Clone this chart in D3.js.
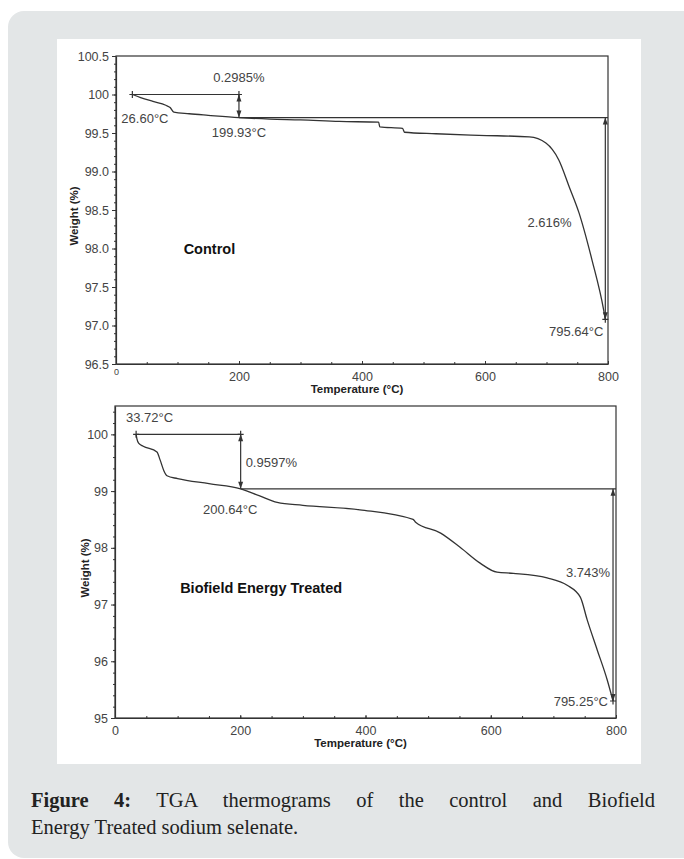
<!DOCTYPE html>
<html>
<head>
<meta charset="utf-8">
<script src="https://cdn.jsdelivr.net/npm/d3@7/dist/d3.min.js"></script>
<style>
  body { margin: 0; background: #fff; }
  svg text { font-family: "Liberation Sans", Arial, sans-serif; }
</style>
</head>
<body>
<script>
// control sample
var controlTemp = [26.6, 40, 60, 81, 88, 94, 119, 150, 199.93, 250, 300, 363, 427, 429, 466, 469, 520, 590, 672, 699, 720, 737, 753, 774, 793, 795.64];
var controlWeight = [100, 99.96, 99.91, 99.86, 99.83, 99.77, 99.75, 99.73, 99.70, 99.68, 99.67, 99.65, 99.64, 99.58, 99.56, 99.51, 99.49, 99.47, 99.45, 99.37, 99.15, 98.80, 98.46, 97.85, 97.20, 97.08];

// treated sample
var treatedTemp = [33.72, 35, 38, 45, 67, 72, 78, 83, 100, 150, 200.64, 230, 259, 300, 391, 476, 480, 520, 551, 583, 610, 636, 690, 722, 743, 754, 770, 786, 795.25];
var treatedWeight = [100, 99.92, 99.84, 99.79, 99.69, 99.55, 99.36, 99.27, 99.22, 99.13, 99.04, 98.92, 98.80, 98.75, 98.67, 98.50, 98.45, 98.26, 98.01, 97.73, 97.57, 97.55, 97.47, 97.34, 97.13, 96.73, 96.20, 95.67, 95.30];

var xTicks = [0, 200, 400, 600, 800];
var xTickLabels = ["0", "200", "400", "600", "800"];
var yTicksTop = [96.5, 97, 97.5, 98, 98.5, 99, 99.5, 100, 100.5];
var yTickLabelsTop = ["96.5", "97.0", "97.5", "98.0", "98.5", "99.0", "99.5", "100", "100.5"];
var yTicksBottom = [95, 96, 97, 98, 99, 100];
var yTickLabelsBottom = ["95", "96", "97", "98", "99", "100"];

var svg = d3.select('body').append('svg')
    .attr('width', 684)
    .attr('height', 859);

// grey card + white figure panel
svg.append('rect').attr('x', 8).attr('y', 11).attr('width', 700).attr('height', 847)
    .attr('rx', 16).attr('fill', '#e3e6e7');
svg.append('rect').attr('x', 57).attr('y', 39).attr('width', 584).attr('height', 725)
    .attr('fill', '#fff');

var ink = '#333';

function drawPanel(p) {
    var x = d3.scaleLinear().domain([0, 800]).range([p.left, p.right]);
    var y = d3.scaleLinear().domain(p.yDomain).range([p.bottom, p.top]);
    var g = svg.append('g');

    // frame
    g.append('rect').attr('x', p.left).attr('y', p.top)
        .attr('width', p.right - p.left).attr('height', p.bottom - p.top)
        .attr('fill', 'none').attr('stroke', ink).attr('stroke-width', 1.2);

    // y axis
    var yAxis = d3.axisLeft(y).tickValues(p.yTicks).tickSize(4).tickSizeOuter(0)
        .tickFormat(function(d, i) { return p.yLabels[i]; });
    var ya = g.append('g').attr('transform', 'translate(' + p.left + ',0)').call(yAxis);
    var yMinor = d3.axisLeft(y).tickValues(d3.range(p.yDomain[0], p.yDomain[1] + 1e-6, p.yMinor))
        .tickSize(2).tickFormat('').tickSizeOuter(0);
    var ym = g.append('g').attr('transform', 'translate(' + p.left + ',0)').call(yMinor);
    ym.select('.domain').remove();

    // x axis (ticks inward)
    var xAxis = d3.axisBottom(x).tickValues(xTicks).tickSize(-3).tickSizeOuter(0)
        .tickPadding(8)
        .tickFormat(function(d, i) { return xTickLabels[i]; });
    var xa = g.append('g').attr('transform', 'translate(0,' + p.bottom + ')').call(xAxis);
    var xMinor = d3.axisBottom(x).tickValues(d3.range(0, 801, 50)).tickSize(-2).tickFormat('').tickSizeOuter(0);
    var xm = g.append('g').attr('transform', 'translate(0,' + p.bottom + ')').call(xMinor);
    xm.select('.domain').remove();

    [ya, ym, xa, xm].forEach(function(a) {
        a.selectAll('line').attr('stroke', ink);
        a.selectAll('.domain').attr('stroke', ink).attr('stroke-width', 1.2);
        a.selectAll('text').attr('fill', '#444').style('font-size', '12.5px')
            .style('font-family', '"Liberation Sans", Arial, sans-serif');
    });
    if (p.smallZero) {
        xa.selectAll('text').filter(function(d) { return d === 0; })
            .style('font-size', '9px').attr('dy', '0.3em');
    }

    // axis titles
    g.append('text').attr('x', (x(0) + x(800)) / 2 - 5).attr('y', p.bottom + 29)
        .attr('text-anchor', 'middle').attr('font-weight', 'bold').attr('font-size', 11.5)
        .attr('fill', '#222').text('Temperature (°C)');
    g.append('text')
        .attr('transform', 'translate(' + p.yTitleX + ',' + p.yTitleY + ') rotate(-90)')
        .attr('text-anchor', 'middle').attr('font-weight', 'bold').attr('font-size', 11.5)
        .attr('fill', '#222').text('Weight (%)');

    // curve
    var pts = p.temp.map(function(t, i) { return [t, p.weight[i]]; });
    var line = d3.line().x(function(d) { return x(d[0]); }).y(function(d) { return y(d[1]); })
        .curve(d3.curveMonotoneX);
    g.append('path').datum(pts).attr('d', line)
        .attr('fill', 'none').attr('stroke', ink).attr('stroke-width', 1.3);

    // step annotations
    var t0 = p.temp[0], w0 = p.weight[0];
    var t1 = p.midT, w1 = p.midW;
    var t2 = p.temp[p.temp.length - 1], w2 = p.weight[p.weight.length - 1];

    function hline(ta, tb, w) {
        g.append('line').attr('x1', x(ta)).attr('x2', x(tb)).attr('y1', y(w)).attr('y2', y(w))
            .attr('stroke', ink).attr('stroke-width', 1.2);
    }
    function cross(t, w) {
        g.append('path').attr('d', 'M' + (x(t) - 3) + ',' + y(w) + 'h6M' + x(t) + ',' + (y(w) - 3.5) + 'v7')
            .attr('stroke', ink).attr('stroke-width', 1.2);
    }
    function arrow(t, wa, wb) {
        var xx = x(t), ya1 = y(wa), yb = y(wb);
        g.append('line').attr('x1', xx).attr('x2', xx).attr('y1', ya1).attr('y2', yb)
            .attr('stroke', ink).attr('stroke-width', 1.2);
        g.append('path').attr('d', 'M' + xx + ',' + ya1 + 'l-2.5,7h5z').attr('fill', ink);
        g.append('path').attr('d', 'M' + xx + ',' + yb + 'l-2.5,-7h5z').attr('fill', ink);
    }
    hline(t0, t1, w0);
    cross(t0, w0);
    cross(t1, w0);
    arrow(t1, w0, w1);
    hline(t1, 800, w1);
    arrow(t2, w1, w2);
    cross(t2, w2);

    p.labels.forEach(function(l) {
        g.append('text').attr('x', x(l.t) + (l.dx || 0)).attr('y', y(l.w) + (l.dy || 0))
            .attr('text-anchor', l.anchor).attr('font-size', l.size || 13)
            .attr('font-weight', l.bold ? 'bold' : 'normal')
            .attr('fill', l.bold ? '#111' : '#444').text(l.text);
    });
}

drawPanel({
    left: 116, right: 608, top: 56, bottom: 364,
    yDomain: [96.5, 100.5], yTicks: yTicksTop, yLabels: yTickLabelsTop, yMinor: 0.1,
    temp: controlTemp, weight: controlWeight, midT: 199.93, midW: 99.70,
    yTitleX: 78, yTitleY: 216, smallZero: true,
    labels: [
        { t: 199.93, w: 100, dy: -13, anchor: 'middle', text: '0.2985%' },
        { t: 26.6, w: 99.70, dx: -11, dy: 5, anchor: 'start', text: '26.60°C' },
        { t: 199.93, w: 99.70, dy: 19, anchor: 'middle', text: '199.93°C' },
        { t: 705, w: 98.33, dy: 4, anchor: 'middle', text: '2.616%' },
        { t: 795.64, w: 97.08, dx: -2, dy: 17, anchor: 'end', text: '795.64°C' },
        { t: 110, w: 98.0, dy: 5, anchor: 'start', text: 'Control', bold: true, size: 14.5 }
    ]
});

drawPanel({
    left: 115, right: 616, top: 406, bottom: 718,
    yDomain: [95, 100.5], yTicks: yTicksBottom, yLabels: yTickLabelsBottom, yMinor: 0.2,
    temp: treatedTemp, weight: treatedWeight, midT: 200.64, midW: 99.04,
    yTitleX: 89, yTitleY: 568, smallZero: false,
    labels: [
        { t: 17.5, w: 100, dy: -12, anchor: 'start', text: '33.72°C' },
        { t: 200.64, w: 99.52, dx: 5, dy: 5, anchor: 'start', text: '0.9597%' },
        { t: 184, w: 99.04, dy: 25, anchor: 'middle', text: '200.64°C' },
        { t: 795.25, w: 97.55, dx: -3, dy: 4, anchor: 'end', text: '3.743%' },
        { t: 795.25, w: 95.30, dx: -5, dy: 5, anchor: 'end', text: '795.25°C' },
        { t: 104, w: 97.3, dy: 5, anchor: 'start', text: 'Biofield Energy Treated', bold: true, size: 14.5 }
    ]
});

// caption, first line justified by word spacing
var capFont = '"Liberation Serif", "Times New Roman", serif';
var cap = svg.append('g').attr('fill', '#222').attr('font-size', 20.5);
var l1 = cap.append('text').attr('x', 31).attr('y', 807).style('font-family', capFont);
l1.append('tspan').attr('font-weight', 'bold').text('Figure 4:');
l1.append('tspan').text(' TGA thermograms of the control and Biofield');
var natural = l1.node().getComputedTextLength();
l1.attr('word-spacing', ((624 - natural) / 8).toFixed(2));
cap.append('text').attr('x', 31).attr('y', 834).style('font-family', capFont)
    .text('Energy Treated sodium selenate.');
</script>
</body>
</html>
